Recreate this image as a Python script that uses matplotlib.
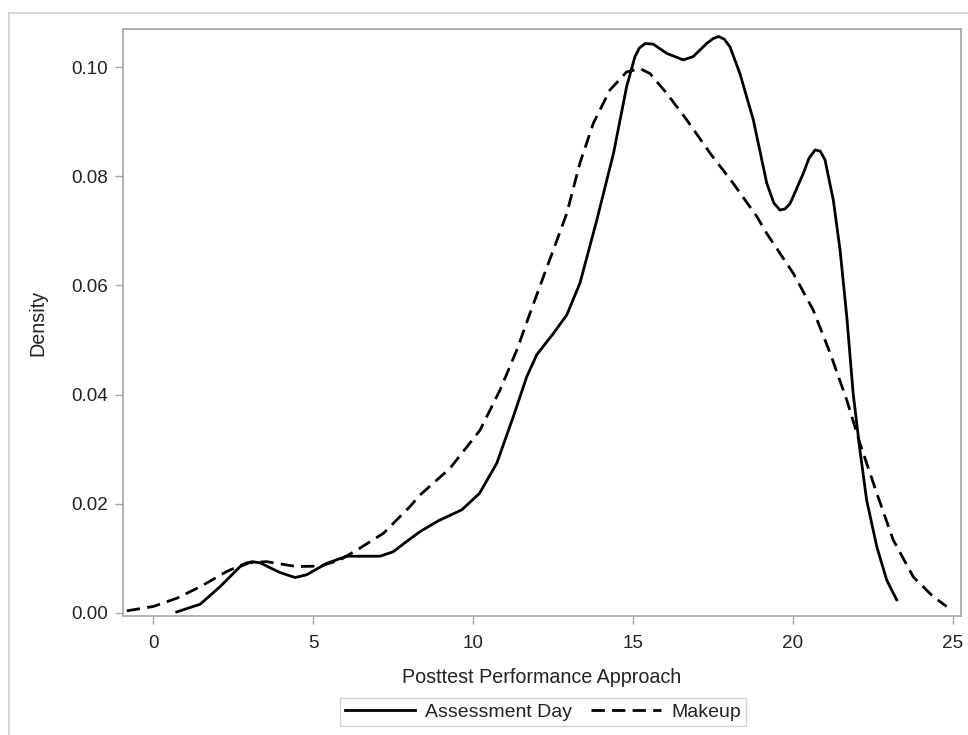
import numpy as np
import matplotlib.pyplot as plt
from matplotlib.lines import Line2D

plt.rcParams['font.family'] = ['Liberation Sans', 'DejaVu Sans']

# Assessment Day density curve
assess_x = [0.74, 1.47, 2.09, 2.72, 3.08, 3.34, 3.97, 4.44, 4.8, 5.43, 6.05, 7.09,
            7.5, 7.88, 8.34, 8.92, 9.65, 10.2, 10.74, 11.26, 11.68, 11.99, 12.51,
            12.93, 13.34, 13.87, 14.39, 14.8, 15.06, 15.2, 15.38, 15.63, 16.05, 16.57,
            16.88, 17.3, 17.5, 17.67, 17.85, 18.03, 18.34, 18.76, 19.18, 19.4, 19.59,
            19.75, 19.91, 20.32, 20.5, 20.69, 20.85, 21.0, 21.26, 21.47, 21.68, 21.88,
            22.09, 22.3, 22.62, 22.93, 23.24]
assess_y = [0.0002, 0.0016, 0.0048, 0.0085, 0.0094, 0.0092, 0.0074, 0.0065, 0.007,
            0.0091, 0.0104, 0.0104, 0.0112, 0.0129, 0.0149, 0.0169, 0.0189, 0.0219,
            0.0274, 0.036, 0.0433, 0.0473, 0.0512, 0.0546, 0.0604, 0.072, 0.0842,
            0.0964, 0.1019, 0.1035, 0.1043, 0.1042, 0.1025, 0.1013, 0.1019, 0.1043,
            0.1052, 0.1056, 0.1051, 0.1037, 0.0988, 0.0903, 0.0787, 0.0751, 0.0738,
            0.0740, 0.075, 0.0805, 0.0833, 0.0848, 0.0846, 0.083, 0.0756, 0.0665,
            0.0543, 0.0402, 0.0299, 0.0207, 0.0121, 0.006, 0.0024]

# Makeup density curve
makeup_x = [-0.82, 0.01, 0.74, 1.47, 2.3, 2.93, 3.55, 4.49, 5.22, 5.84, 6.47, 7.2,
            8.03, 8.34, 9.28, 10.22, 10.84, 11.37, 11.78, 12.2, 12.51, 12.93, 13.34,
            13.76, 14.28, 14.8, 15.22, 15.53, 16.05, 16.68, 17.41, 18.13, 18.87,
            19.18, 20.01, 20.63, 21.16, 21.68, 22.09, 22.62, 23.13, 23.76, 24.38, 24.8]
makeup_y = [0.0004, 0.0012, 0.0027, 0.0048, 0.0076, 0.0092, 0.0094, 0.0085, 0.0086,
            0.0097, 0.0119, 0.0146, 0.0195, 0.0216, 0.0265, 0.0335, 0.0408, 0.0482,
            0.0549, 0.0616, 0.0665, 0.0732, 0.0824, 0.0897, 0.0958, 0.0991, 0.0997,
            0.0988, 0.0952, 0.0903, 0.0842, 0.0787, 0.0726, 0.0695, 0.0622, 0.0555,
            0.0476, 0.039, 0.0311, 0.0219, 0.0134, 0.0066, 0.003, 0.0012]

x_ticks = [0, 5, 10, 15, 20, 25]
y_ticks = [0.00, 0.02, 0.04, 0.06, 0.08, 0.10]

frame_col = '#a6a6a6'
text_col = '#222222'

fig = plt.figure(figsize=(9.68, 7.35), dpi=100)
ax = fig.add_axes([123/968, 1 - 616/735, (961 - 123)/968, (616 - 29)/735])

ax.plot(assess_x, assess_y, color='black', lw=2.0, label='Assessment Day',
        solid_joinstyle='round')
ax.plot(makeup_x, makeup_y, color='black', lw=2.0, linestyle=(0, (4.8, 2.6)),
        label='Makeup')

ax.set_xlim(-0.94, 25.25)
ax.set_ylim(-0.00055, 0.10696)
ax.set_xticks(x_ticks)
ax.set_yticks(y_ticks)
ax.set_yticklabels([f'{v:.2f}' for v in y_ticks])

for sp in ax.spines.values():
    sp.set_color(frame_col)
    sp.set_linewidth(1.2)
ax.tick_params(axis='both', colors=frame_col, length=6, width=1, labelsize=13.6,
               labelcolor=text_col, pad=5)
ax.tick_params(axis='x', pad=8)

ax.set_xlabel('Posttest Performance Approach', fontsize=14.2, color=text_col, labelpad=11)
ax.set_ylabel('Density', fontsize=14.2, color=text_col, labelpad=17)

leg = fig.legend(loc='center', bbox_to_anchor=(543/968, 1 - 712/735), ncol=2,
                 fontsize=14, frameon=True, fancybox=False, handlelength=3.6,
                 handletextpad=0.5, columnspacing=1.0, borderpad=0.25,
                 borderaxespad=0)
leg.get_frame().set_edgecolor('#c8c8c8')
leg.get_frame().set_linewidth(1.0)
for t in leg.get_texts():
    t.set_color(text_col)

# light border on the top and left edges of the graph
fig.add_artist(Line2D([9/968, 9/968], [0, 1 - 13/735], transform=fig.transFigure,
                      color='#d0d0d0', lw=1.2))
fig.add_artist(Line2D([9/968, 1], [1 - 13/735, 1 - 13/735], transform=fig.transFigure,
                      color='#d0d0d0', lw=1.2))

fig.savefig('out.png', dpi=100)
